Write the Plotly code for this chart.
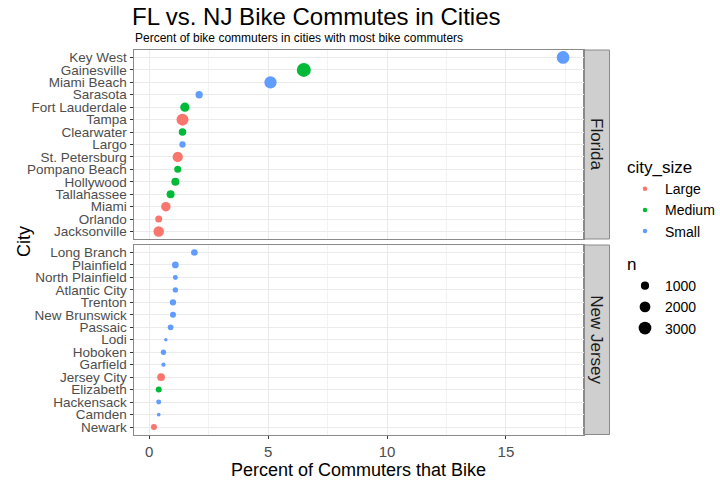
import plotly.graph_objects as go

# ---------------- data ----------------
fl_cities = ["Key West", "Gainesville", "Miami Beach", "Sarasota", "Fort Lauderdale",
             "Tampa", "Clearwater", "Largo", "St. Petersburg", "Pompano Beach",
             "Hollywood", "Tallahassee", "Miami", "Orlando", "Jacksonville"]
fl_pct = [17.4, 6.5, 5.1, 2.1, 1.5, 1.4, 1.4, 1.4, 1.2, 1.2, 1.1, 0.9, 0.7, 0.4, 0.4]
fl_size = ["Small", "Medium", "Small", "Small", "Medium", "Large", "Medium", "Small",
           "Large", "Medium", "Medium", "Medium", "Large", "Large", "Large"]
fl_n = [2980, 3760, 2760, 740, 1380, 2600, 790, 500, 1785, 660, 940, 940, 1460, 660, 1870]

nj_cities = ["Long Branch", "Plainfield", "North Plainfield", "Atlantic City", "Trenton",
             "New Brunswick", "Passaic", "Lodi", "Hoboken", "Garfield", "Jersey City",
             "Elizabeth", "Hackensack", "Camden", "Newark"]
nj_pct = [1.9, 1.1, 1.1, 1.1, 1.0, 1.0, 0.9, 0.7, 0.6, 0.6, 0.5, 0.4, 0.4, 0.4, 0.2]
nj_size = ["Small", "Small", "Small", "Small", "Small", "Small", "Small", "Small",
           "Small", "Small", "Large", "Medium", "Small", "Small", "Large"]
nj_n = [590, 590, 270, 320, 500, 440, 385, 120, 320, 190, 850, 440, 270, 140, 440]

size_levels = ["Large", "Medium", "Small"]
n_breaks = [1000, 2000, 3000]
x_ticks = [0, 5, 10, 15]

colors = {"Large": "#F8766D", "Medium": "#00BA38", "Small": "#619CFF"}


def diam(n):
    # size scale (area-like, as in ggplot scale_size)
    return 2.5 + 0.19 * max(n - 100, 0) ** 0.5


FONT = "Liberation Sans, Arial, sans-serif"

fig = go.Figure()

fig.add_trace(go.Scatter(
    x=fl_pct, y=fl_cities, mode="markers", xaxis="x", yaxis="y", showlegend=False,
    marker=dict(color=[colors[s] for s in fl_size], size=[diam(v) for v in fl_n],
                line=dict(width=0), opacity=1),
    text=fl_size, hovertemplate="%{y}: %{x}%<extra></extra>"))
fig.add_trace(go.Scatter(
    x=nj_pct, y=nj_cities, mode="markers", xaxis="x2", yaxis="y2", showlegend=False,
    marker=dict(color=[colors[s] for s in nj_size], size=[diam(v) for v in nj_n],
                line=dict(width=0), opacity=1),
    text=nj_size, hovertemplate="%{y}: %{x}%<extra></extra>"))

# legend entries
for s in size_levels:
    fig.add_trace(go.Scatter(x=[None], y=[None], mode="markers", name=s,
                             marker=dict(color=colors[s], size=4.5),
                             legend="legend", xaxis="x", yaxis="y"))
for n in n_breaks:
    fig.add_trace(go.Scatter(x=[None], y=[None], mode="markers", name=str(n),
                             marker=dict(color="black", size=diam(n)),
                             legend="legend2", xaxis="x", yaxis="y"))

W, H = 720, 480
px_x = lambda p: p / W
px_y = lambda p: 1 - p / H

xdom = [px_x(133.5), px_x(583.5)]
top_dom = [px_y(239), px_y(50)]
bot_dom = [px_y(434.5), px_y(245)]

grid = "#EBEBEB"
border = "#8A8A8A"
tickfont_y = dict(family=FONT, size=13.5, color="#4D4D4D")

common_x = dict(range=[-0.66, 18.26], tickvals=x_ticks, showgrid=True, gridcolor=grid,
                gridwidth=1, zeroline=False, showline=True, mirror=True,
                linecolor=border, linewidth=1,
                minor=dict(tick0=2.5, dtick=5, showgrid=True, gridcolor="#F3F3F3",
                           gridwidth=1, ticks=""))
common_y = dict(type="category", range=[-0.6, 14.6], showgrid=True, gridcolor=grid,
                gridwidth=1, zeroline=False, showline=True, mirror=True,
                linecolor=border, linewidth=1, ticks="outside", ticklen=3,
                tickcolor="#333333", tickfont=tickfont_y, tickmode="array",
                categoryorder="array")

fig.update_layout(
    width=W, height=H, margin=dict(l=0, r=0, t=0, b=0),
    paper_bgcolor="white", plot_bgcolor="white",
    font=dict(family=FONT, color="black"),
    title=dict(text="FL vs. NJ Bike Commutes in Cities", x=px_x(132), xanchor="left",
               y=px_y(17), yanchor="middle", font=dict(family=FONT, size=24, color="black")),
    xaxis=dict(domain=xdom, anchor="y", showticklabels=False, ticks="", matches="x2",
               **common_x),
    xaxis2=dict(domain=xdom, anchor="y2", ticks="outside", ticklen=3, tickcolor="#333333",
                tickfont=dict(family=FONT, size=15, color="#4D4D4D"),
                title=dict(text="Percent of Commuters that Bike", standoff=8,
                           font=dict(family=FONT, size=18, color="black")),
                **common_x),
    yaxis=dict(domain=top_dom, anchor="x", categoryarray=fl_cities[::-1],
               tickvals=fl_cities, ticktext=fl_cities, **common_y),
    yaxis2=dict(domain=bot_dom, anchor="x2", categoryarray=nj_cities[::-1],
                tickvals=nj_cities, ticktext=nj_cities, **common_y),
    legend=dict(x=px_x(625), y=px_y(151), xanchor="left", yanchor="top",
                title=dict(text="city_size", font=dict(family=FONT, size=17, color="black")),
                font=dict(family=FONT, size=14, color="black"), itemwidth=30,
                bgcolor="rgba(0,0,0,0)", tracegroupgap=0, itemclick=False),
    legend2=dict(x=px_x(625), y=px_y(248), xanchor="left", yanchor="top",
                 title=dict(text="n", font=dict(family=FONT, size=17, color="black")),
                 font=dict(family=FONT, size=14, color="black"), itemwidth=30,
                 bgcolor="rgba(0,0,0,0)", tracegroupgap=0, itemclick=False),
    showlegend=True,
)

# facet strips
strip_x = [px_x(583.5), px_x(609.5)]
for dom, label in [(top_dom, "Florida"), (bot_dom, "New Jersey")]:
    fig.add_shape(type="rect", xref="paper", yref="paper", x0=strip_x[0], x1=strip_x[1],
                  y0=dom[0], y1=dom[1], fillcolor="#CFCFCF",
                  line=dict(color=border, width=1), layer="below")
    fig.add_annotation(text=label, xref="paper", yref="paper",
                       x=(strip_x[0] + strip_x[1]) / 2, y=(dom[0] + dom[1]) / 2,
                       xanchor="center", yanchor="middle",
                       textangle=90, showarrow=False,
                       font=dict(family=FONT, size=17, color="#1A1A1A"))

# subtitle and y title
fig.add_annotation(text="Percent of bike commuters in cities with most bike commuters",
                   xref="paper", yref="paper", x=px_x(133), y=px_y(37.5),
                   xanchor="left", yanchor="middle", showarrow=False,
                   font=dict(family=FONT, size=12, color="black"))
fig.add_annotation(text="City", xref="paper", yref="paper", x=px_x(12), y=px_y(242),
                   textangle=-90, showarrow=False,
                   font=dict(family=FONT, size=18, color="black"))

fig.write_html("out.html")
